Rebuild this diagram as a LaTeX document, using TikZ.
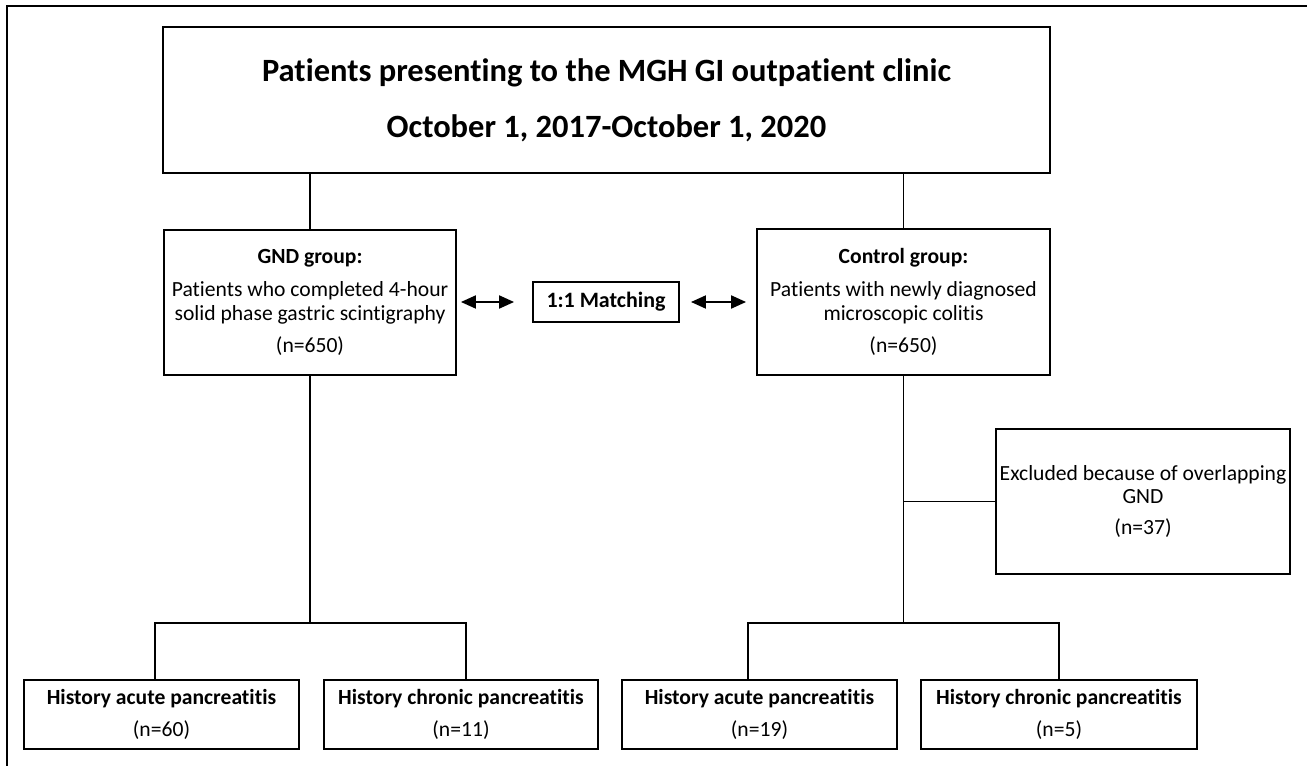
\documentclass[tikz,border=0pt]{standalone}
\usepackage{fontspec}
\setmainfont{Carlito}[Ligatures={NoCommon}]
\usetikzlibrary{arrows.meta}

\begin{document}
\begin{tikzpicture}[x=0.02cm,y=-0.02cm,
    line width=1.1pt,
    box/.style={draw,align=center,inner sep=2pt,font=\fontsize{12.3}{13.6}\selectfont},
    leaf/.style={box,minimum height=1.38cm},
    dbl/.style={{Triangle[length=3mm,width=2.6mm]}-{Triangle[length=3mm,width=2.6mm]}}]
  \useasboundingbox (0,0) rectangle (1307,766);
  % frame
  \draw (7,766) -- (7,6) -- (1307,6);
  \node[box,minimum width=17.74cm,minimum height=2.92cm,font=\fontsize{18.5}{20}\selectfont\bfseries]
    (top) at (606.5,100) {Patients presenting to the MGH GI outpatient clinic\\[12pt]October 1, 2017-October 1, 2020};
  \node[box,minimum width=5.84cm,minimum height=2.9cm] (gnd) at (310,302.5)
    {\textbf{GND group:}\\[5pt]Patients who completed 4-hour\\solid phase gastric scintigraphy\\[5pt](n=650)};
  \node[box,minimum width=2.92cm,minimum height=0.8cm,font=\fontsize{12.5}{14}\selectfont\bfseries]
    (match) at (606,302) {1:1 Matching};
  \node[box,minimum width=5.86cm,minimum height=2.92cm] (ctrl) at (903.5,302)
    {\textbf{Control group:}\\[5pt]Patients with newly diagnosed\\microscopic colitis\\[5pt](n=650)};
  \node[box,minimum width=5.84cm,minimum height=2.9cm] (excl) at (1143,501.5)
    {Excluded because of overlapping\\GND\\[4pt](n=37)};
  \node[leaf,minimum width=5.5cm] (ga) at (161.5,714.5) {\textbf{History acute pancreatitis}\\[5pt](n=60)};
  \node[leaf,minimum width=5.48cm] (gc) at (461,714.5) {\textbf{History chronic pancreatitis}\\[5pt](n=11)};
  \node[leaf,minimum width=5.5cm] (ca) at (759.5,714.5) {\textbf{History acute pancreatitis}\\[5pt](n=19)};
  \node[leaf,minimum width=5.52cm] (cc) at (1059,714.5) {\textbf{History chronic pancreatitis}\\[5pt](n=5)};
  \coordinate (gsplit) at (310,623);
  \coordinate (csplit) at (903.5,623);
  \begin{scope}
    \draw (top.south -| gnd.north) -- (gnd.north);
    \draw (top.south -| ctrl.north) -- (ctrl.north);
    \draw[dbl] ([xshift=0.08cm]gnd.east |- match.west) -- ([xshift=-0.36cm]match.west);
    \draw[dbl] ([xshift=0.22cm]match.east) -- ([xshift=-0.2cm]ctrl.west |- match.east);
    \draw (gnd.south) -- (gsplit);
    \draw ([xshift=-0.13cm]ga.north) |- (gsplit) -| ([xshift=0.1cm]gc.north);
    \draw (ctrl.south) -- (csplit);
    \draw (excl.west -| ctrl.south) -- (excl.west);
    \draw ([xshift=-0.23cm]ca.north) |- (csplit) -| (cc.north);
  \end{scope}
\end{tikzpicture}
\end{document}
